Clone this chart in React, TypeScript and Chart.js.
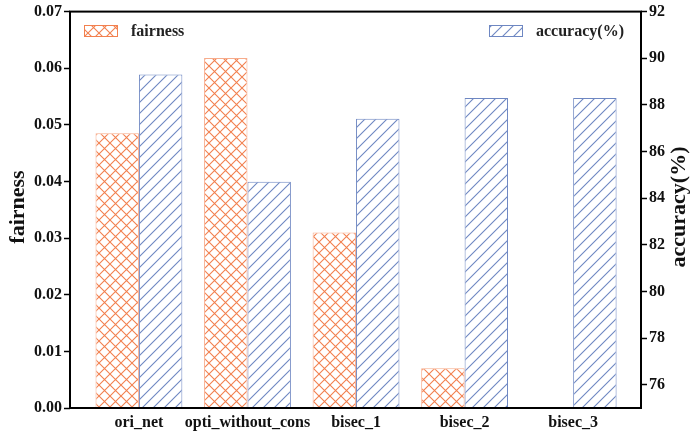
import React, { useEffect, useRef } from "react";
import { Chart, registerables } from "chart.js";

Chart.register(...registerables);

const categories = ["ori_net", "opti_without_cons", "bisec_1", "bisec_2", "bisec_3"];
const fairness = [0.0485, 0.0618, 0.031, 0.007, 0];
const accuracy = [89.3, 84.7, 87.4, 88.3, 88.3];
const fairTicks = [0, 0.01, 0.02, 0.03, 0.04, 0.05, 0.06, 0.07];
const accTicks = [76, 78, 80, 82, 84, 86, 88, 90, 92];

const ORANGE = "#F2804F";
const ORANGE_EDGE = "rgba(242,128,79,0.65)";
const BLUE = "#6E87C2";
const FONT = "'Liberation Serif', 'Times New Roman', serif";

function makePattern(kind: "cross" | "diag"): CanvasPattern | string {
  const s = 11;
  const c = document.createElement("canvas");
  c.width = s;
  c.height = s;
  const ctx = c.getContext("2d");
  if (!ctx) return "white";
  ctx.fillStyle = "white";
  ctx.fillRect(0, 0, s, s);
  ctx.lineWidth = 1.1;
  if (kind === "cross") {
    ctx.strokeStyle = ORANGE;
    ctx.beginPath();
    ctx.moveTo(0, 0);
    ctx.lineTo(s, s);
    ctx.moveTo(0, s);
    ctx.lineTo(s, 0);
    ctx.stroke();
  } else {
    ctx.strokeStyle = BLUE;
    ctx.beginPath();
    ctx.moveTo(-1, s + 1);
    ctx.lineTo(s + 1, -1);
    ctx.moveTo(-1, 1);
    ctx.lineTo(1, -1);
    ctx.moveTo(s - 1, s + 1);
    ctx.lineTo(s + 1, s - 1);
    ctx.stroke();
  }
  const p = ctx.createPattern(c, "repeat");
  return p || "white";
}

export default function App() {
  const ref = useRef<HTMLCanvasElement | null>(null);

  useEffect(() => {
    document.body.style.margin = "0";
    const canvas = ref.current;
    if (!canvas) return;
    const cross = makePattern("cross");
    const diag = makePattern("diag");

    const overlay = {
      id: "overlay",
      afterDraw(chart: any) {
        const ctx = chart.ctx;
        const a = chart.chartArea;
        ctx.save();
        ctx.strokeStyle = "#000";
        ctx.lineWidth = 2;
        ctx.strokeRect(a.left, a.top, a.right - a.left, a.bottom - a.top);
        const drawLeg = (x: number, fill: any, edge: string, text: string) => {
          ctx.fillStyle = fill;
          ctx.fillRect(x, 25, 34, 12);
          ctx.strokeStyle = edge;
          ctx.lineWidth = 1;
          ctx.strokeRect(x + 0.5, 25.5, 33, 11);
          ctx.fillStyle = "#222";
          ctx.font = `bold 16px ${FONT}`;
          ctx.textAlign = "left";
          ctx.textBaseline = "middle";
          ctx.fillText(text, x + 47, 32);
        };
        drawLeg(84, cross, ORANGE, "fairness");
        drawLeg(489, diag, BLUE, "accuracy(%)");
        ctx.fillStyle = "#111";
        ctx.font = `bold 22px ${FONT}`;
        ctx.textAlign = "center";
        ctx.textBaseline = "middle";
        ctx.save();
        ctx.translate(18, 207);
        ctx.rotate(-Math.PI / 2);
        ctx.fillText("fairness", 0, 0);
        ctx.restore();
        ctx.save();
        ctx.translate(679, 207);
        ctx.rotate(-Math.PI / 2);
        ctx.fillText("accuracy(%)", 0, 0);
        ctx.restore();
        ctx.restore();
      },
    };

    const tickFont = { family: FONT, size: 16, weight: "bold" as const };

    const chart = new Chart(canvas, {
      type: "bar",
      data: {
        datasets: [
          {
            label: "fairness",
            data: fairness.map((v, i) => ({ x: i, y: v })),
            yAxisID: "y",
            backgroundColor: cross as any,
            borderColor: ORANGE_EDGE,
            borderWidth: 1,
            categoryPercentage: 0.8,
            barPercentage: 1,
          },
          {
            label: "accuracy(%)",
            data: accuracy.map((v, i) => ({ x: i, y: v })),
            yAxisID: "y1",
            backgroundColor: diag as any,
            borderColor: BLUE,
            borderWidth: 1,
            categoryPercentage: 0.8,
            barPercentage: 1,
          },
        ],
      },
      options: {
        responsive: false,
        animation: false,
        devicePixelRatio: 1,
        layout: { padding: { top: 11, left: 0, right: 0, bottom: 0 } },
        plugins: { legend: { display: false }, tooltip: { enabled: false } },
        scales: {
          x: {
            type: "linear",
            offset: false,
            min: -0.635,
            max: 4.625,
            afterBuildTicks: (s: any) => {
              s.ticks = categories.map((_, i) => ({ value: i }));
            },
            afterFit: (s: any) => {
              s.height = 25;
            },
            ticks: {
              callback: (v: any) => categories[Math.round(Number(v))] ?? "",
              font: tickFont,
              color: "#111",
              padding: 5,
              maxRotation: 0,
              autoSkip: false,
            },
            grid: { display: false, drawTicks: false, offset: false },
            border: { display: false },
          },
          y: {
            type: "linear",
            position: "left",
            min: 0,
            max: 0.07,
            afterBuildTicks: (s: any) => {
              s.ticks = fairTicks.map((v) => ({ value: v }));
            },
            afterFit: (s: any) => {
              s.width = 70;
            },
            ticks: {
              callback: (v: any) => Number(v).toFixed(2),
              font: tickFont,
              color: "#111",
              padding: 2,
            },
            grid: {
              display: true,
              drawOnChartArea: false,
              drawTicks: true,
              tickLength: 6,
              tickColor: "#000",
              tickWidth: 1.5,
            },
            border: { display: false },
          },
          y1: {
            type: "linear",
            position: "right",
            min: 75,
            max: 92,
            afterBuildTicks: (s: any) => {
              s.ticks = accTicks.map((v) => ({ value: v }));
            },
            afterFit: (s: any) => {
              s.width = 51;
            },
            ticks: {
              callback: (v: any) => String(v),
              font: tickFont,
              color: "#111",
              padding: 2,
            },
            grid: {
              display: true,
              drawOnChartArea: false,
              drawTicks: true,
              tickLength: 6,
              tickColor: "#000",
              tickWidth: 1.5,
            },
            border: { display: false },
          },
        },
      },
      plugins: [overlay],
    });

    return () => chart.destroy();
  }, []);

  return (
    <div style={{ width: 692, height: 433 }}>
      <canvas ref={ref} width={692} height={433} />
    </div>
  );
}
